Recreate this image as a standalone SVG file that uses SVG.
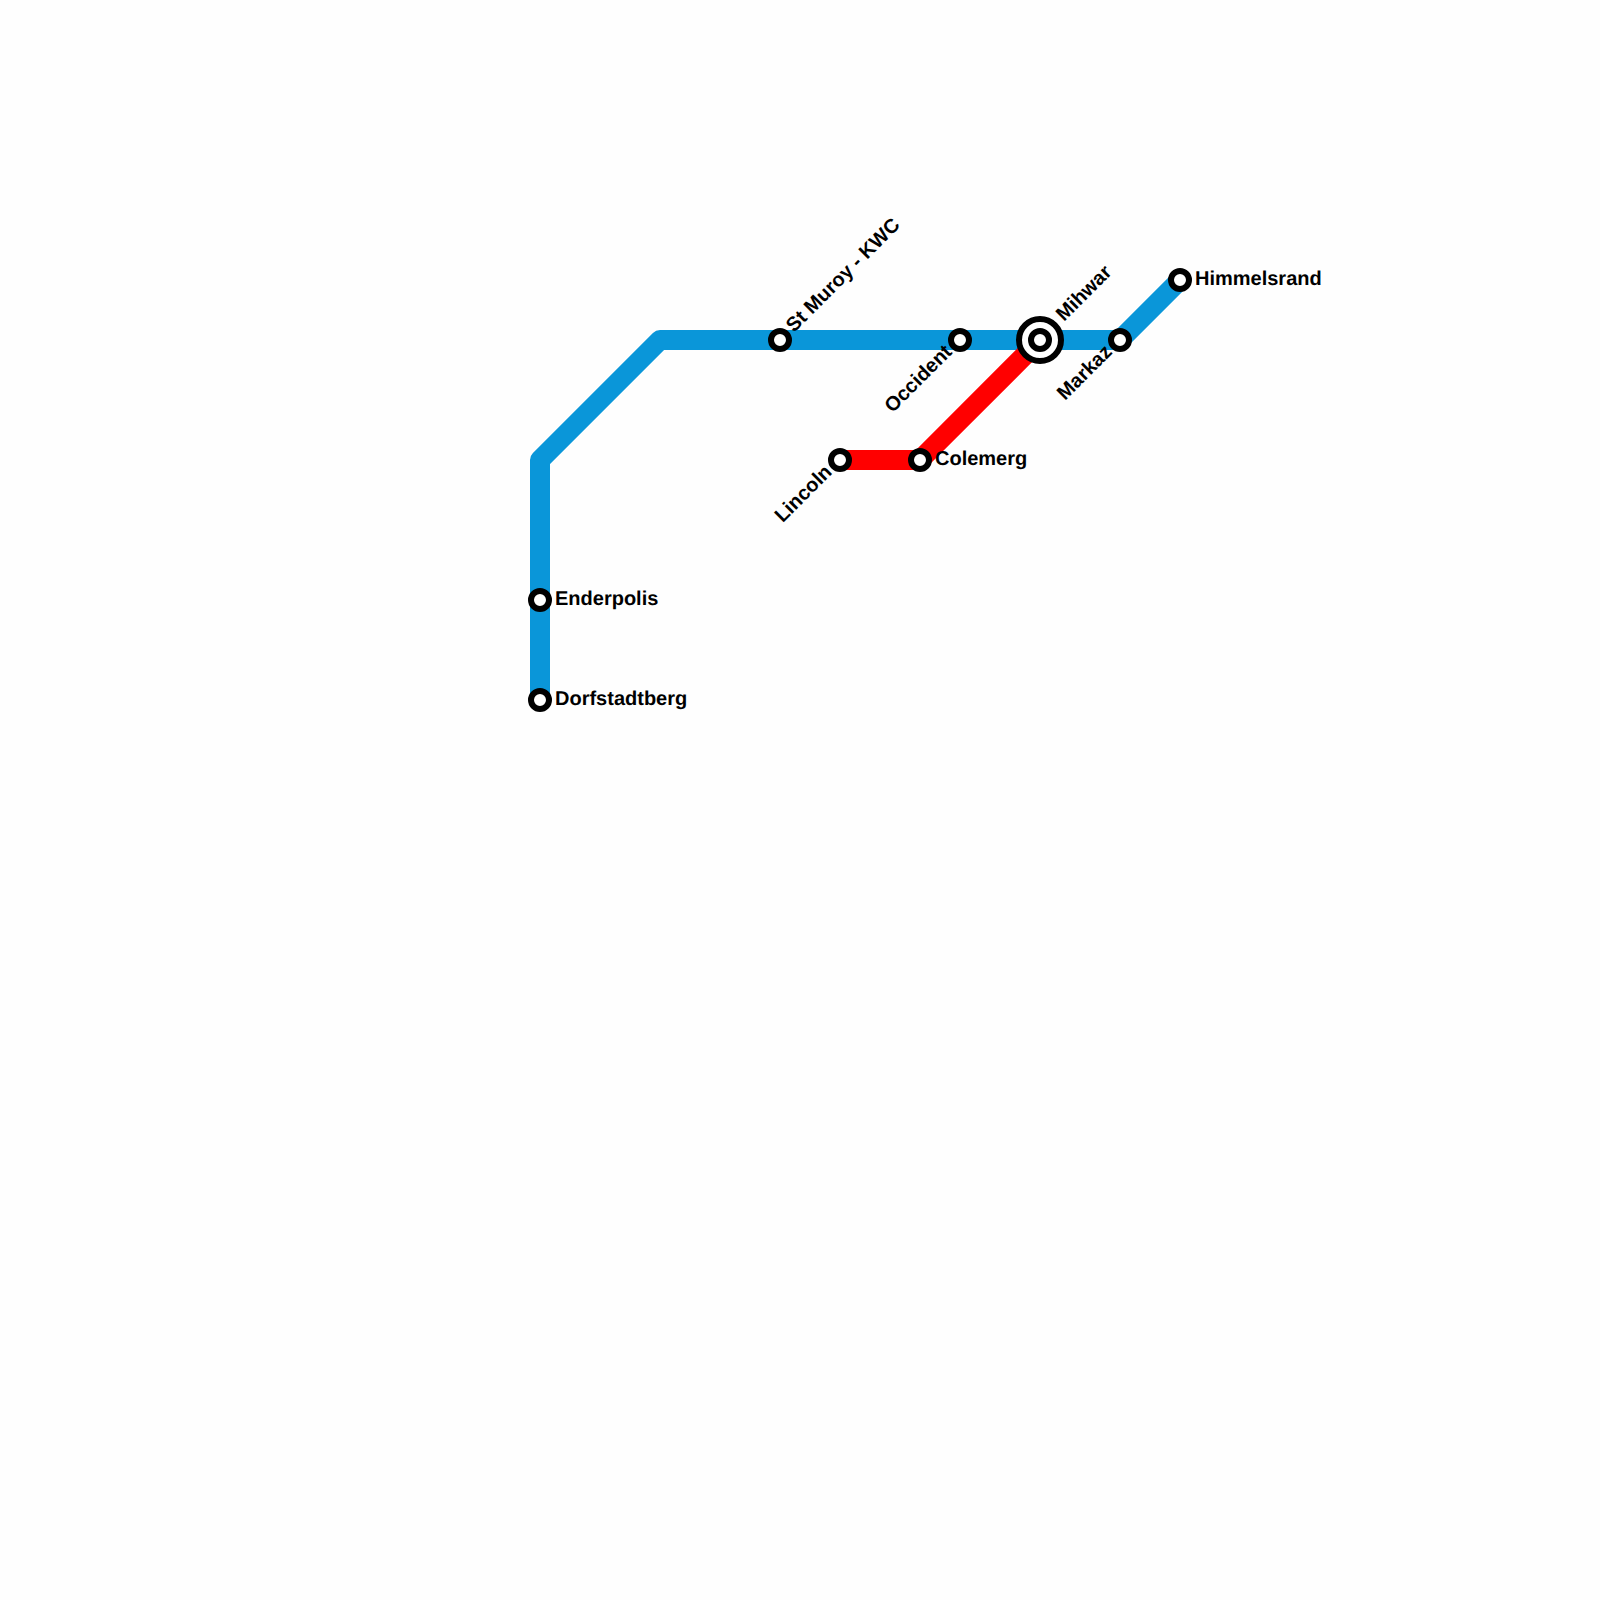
<svg xmlns="http://www.w3.org/2000/svg" width="1600" height="1600" viewBox="0 0 1600 1600">
<style>
.line{fill:none;stroke-width:20;stroke-linecap:round;stroke-linejoin:round}
.st{fill:#fff;stroke:#000;stroke-width:6}
text{font-family:"Liberation Sans",Arial,sans-serif;font-size:20px;font-weight:bold;fill:#000;text-rendering:geometricPrecision;opacity:.999}
</style>
<rect width="1600" height="1600" fill="#fefefe"/>
<g id="connectors">
<path class="line" stroke="#0a96d9" d="M540 700V460L660 340H1120L1180 280"/>
<path class="line" stroke="#ff0000" d="M840 460H920L1040 340"/>
</g>
<g id="enderpolis"><circle class="st" cx="540" cy="600" r="9"/><text x="555" y="605">Enderpolis</text></g>
<g id="dorfstadtberg"><circle class="st" cx="540" cy="700" r="9"/><text x="555" y="705">Dorfstadtberg</text></g>
<g id="st-muroy"><circle class="st" cx="780" cy="340" r="9"/><text transform="translate(794 333) rotate(-45)">St Muroy - KWC</text></g>
<g id="occident"><circle class="st" cx="960" cy="340" r="9"/><text text-anchor="end" transform="translate(953 353) rotate(-45)">Occident</text></g>
<g id="mihwar"><circle cx="1040" cy="340" r="21" fill="#fff" stroke="#000" stroke-width="6"/><circle class="st" cx="1040" cy="340" r="9"/><text transform="translate(1064 322) rotate(-45)">Mihwar</text></g>
<g id="markaz"><circle class="st" cx="1120" cy="340" r="9"/><text text-anchor="end" transform="translate(1113 353) rotate(-45)">Markaz</text></g>
<g id="himmelsrand"><circle class="st" cx="1180" cy="280" r="9"/><text x="1195" y="285">Himmelsrand</text></g>
<g id="lincoln"><circle class="st" cx="840" cy="460" r="9"/><text text-anchor="end" transform="translate(833 473) rotate(-45)">Lincoln</text></g>
<g id="colemerg"><circle class="st" cx="920" cy="460" r="9"/><text x="935" y="465">Colemerg</text></g>
</svg>
